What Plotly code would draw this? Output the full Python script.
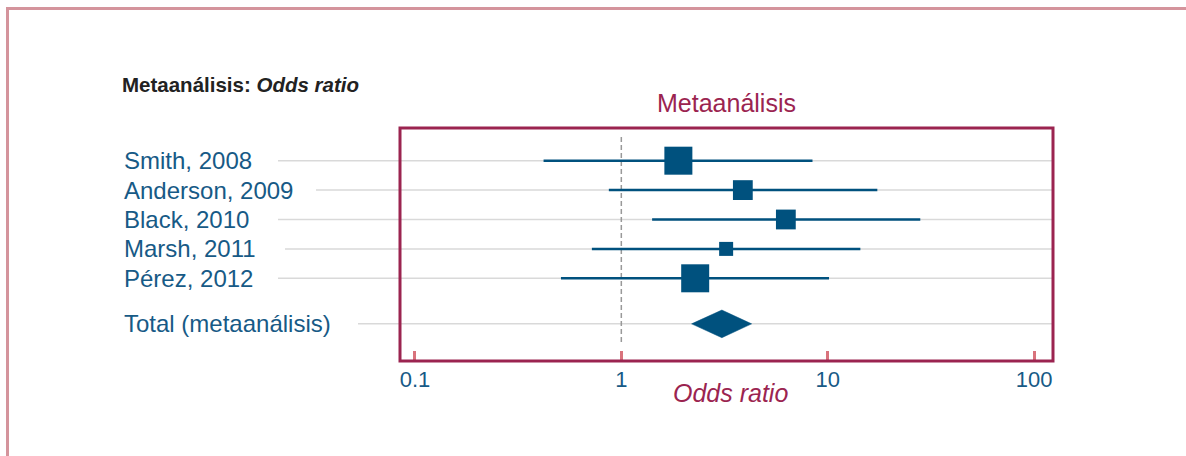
import math
import plotly.graph_objects as go

# ---- data ----
studies = ["Smith, 2008", "Anderson, 2009", "Black, 2010", "Marsh, 2011", "Pérez, 2012"]
odds_ratio = [1.89, 3.88, 6.27, 3.22, 2.28]
ci_low = [0.42, 0.87, 1.41, 0.72, 0.51]
ci_high = [8.44, 17.4, 28.1, 14.4, 10.15]
weights = [4, 2, 2, 1, 4]
total_label = "Total (metaanálisis)"
total_or = 3.07
total_low = 2.19
total_high = 4.28
tick_vals = [0.1, 1, 10, 100]
tick_text = ["0.1", "1", "10", "100"]

# ---- styling ----
W, H = 1186, 456
ML, MR, MT, MB = 400, 133, 128, 95
PW, PH = W - ML - MR, H - MT - MB
BLUE = "#00517e"
TXT = "#175a86"
CRIMSON = "#9b2450"
TICK = "#d9737c"
PAGE = "#d4949c"
GRID = "#d9d9d9"
FONT = "Liberation Sans, Arial, sans-serif"

def px(xp):
    return (xp - ML) / PW

def py(yp):
    return (H - MB - yp) / PH

row_y = [0, 1, 2, 3, 4]
total_y = 5.55
grid_start_px = [278, 316, 278, 285, 278]
total_grid_start_px = 358

fig = go.Figure()

# CI lines
lx, ly = [], []
for lo, hi, y in zip(ci_low, ci_high, row_y):
    lx += [lo, hi, None]
    ly += [y, y, None]
fig.add_trace(go.Scatter(x=lx, y=ly, mode="lines", line=dict(color=BLUE, width=2.5),
                         hoverinfo="skip", showlegend=False))

# squares
fig.add_trace(go.Scatter(x=odds_ratio, y=row_y, mode="markers",
                         marker=dict(symbol="square", color=BLUE, opacity=1,
                                     size=[14 * math.sqrt(w) for w in weights],
                                     line=dict(width=0)),
                         showlegend=False))

# diamond
hh = 0.47
fig.add_trace(go.Scatter(x=[total_low, total_or, total_high, total_or, total_low],
                         y=[total_y, total_y - hh, total_y, total_y + hh, total_y],
                         mode="lines", fill="toself", fillcolor=BLUE,
                         line=dict(color=BLUE, width=0.5), showlegend=False))

shapes = []
# row gridlines (extending left of the box)
for y, gs in zip(row_y + [total_y], grid_start_px + [total_grid_start_px]):
    shapes.append(dict(type="line", xref="paper", yref="y", x0=px(gs), x1=1, y0=y, y1=y,
                       line=dict(color=GRID, width=1.5), layer="below"))
# null line
shapes.append(dict(type="line", xref="x", yref="paper", x0=1, x1=1, y0=py(342), y1=py(137),
                   line=dict(color="#999999", width=1.5, dash="5px,3px"), layer="below"))
# plot frame
shapes.append(dict(type="rect", xref="paper", yref="paper", x0=0, x1=1, y0=0, y1=1,
                   line=dict(color=CRIMSON, width=3)))
# page border
shapes.append(dict(type="line", xref="paper", yref="paper", x0=px(6), x1=px(1190),
                   y0=py(8.5), y1=py(8.5), line=dict(color=PAGE, width=3)))
shapes.append(dict(type="line", xref="paper", yref="paper", x0=px(7.5), x1=px(7.5),
                   y0=py(7), y1=py(460), line=dict(color=PAGE, width=3)))

annotations = []
for name, y in zip(studies + [total_label], row_y + [total_y]):
    annotations.append(dict(text=name, xref="paper", yref="y", x=px(122), y=y,
                            xanchor="left", yanchor="middle", showarrow=False,
                            font=dict(family=FONT, size=24, color=TXT)))
annotations.append(dict(text="<b>Metaanálisis: <i>Odds ratio</i></b>", xref="paper", yref="paper",
                        x=px(120), y=py(84), xanchor="left", yanchor="middle", showarrow=False,
                        font=dict(family=FONT, size=20.5, color="#222222")))
annotations.append(dict(text="Metaanálisis", xref="paper", yref="paper",
                        x=px(726), y=py(103), xanchor="center", yanchor="middle", showarrow=False,
                        font=dict(family=FONT, size=25, color=CRIMSON)))
annotations.append(dict(text="<i>Odds ratio</i>", xref="paper", yref="paper",
                        x=px(730), y=py(393), xanchor="center", yanchor="middle", showarrow=False,
                        font=dict(family=FONT, size=25, color=CRIMSON)))

fig.update_layout(
    width=W, height=H,
    margin=dict(l=ML, r=MR, t=MT, b=MB, pad=0),
    paper_bgcolor="white", plot_bgcolor="white",
    shapes=shapes, annotations=annotations,
    xaxis=dict(type="log", range=[math.log10(0.1) - 15 / 207, 2 + 19 / 207],
               tickvals=tick_vals, ticktext=tick_text, ticks="inside", ticklen=10,
               tickwidth=3, tickcolor=TICK, showgrid=False, zeroline=False, showline=False,
               ticklabelstandoff=3,
               tickfont=dict(family=FONT, size=22, color=TXT)),
    yaxis=dict(range=[6.813, -1.112], showgrid=False, zeroline=False, showline=False,
               showticklabels=False, ticks=""),
    font=dict(family=FONT),
)

fig.write_html("out.html", config={"displayModeBar": False},
               post_script="document.body.style.margin='0px';")
